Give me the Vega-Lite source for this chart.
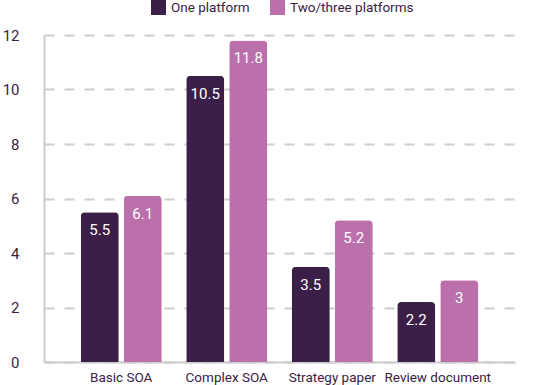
{
  "$schema": "https://vega.github.io/schema/vega-lite/v6.json",
  "autosize": {"type": "none"},
  "width": 471,
  "height": 327,
  "padding": {"left": 44, "top": 35, "right": 23, "bottom": 23},
  "background": "white",
  "data": {
    "values": [
      {"task": "Basic SOA", "group": "One platform", "value": 5.5},
      {"task": "Basic SOA", "group": "Two/three platforms", "value": 6.1},
      {"task": "Complex SOA", "group": "One platform", "value": 10.5},
      {"task": "Complex SOA", "group": "Two/three platforms", "value": 11.8},
      {"task": "Strategy paper", "group": "One platform", "value": 3.5},
      {"task": "Strategy paper", "group": "Two/three platforms", "value": 5.2},
      {"task": "Review document", "group": "One platform", "value": 2.2},
      {"task": "Review document", "group": "Two/three platforms", "value": 3}
    ]
  },
  "encoding": {
    "x": {
      "field": "task", "type": "nominal", "sort": null,
      "scale": {"paddingInner": 0.232, "paddingOuter": 0.348},
      "axis": {
        "title": null, "labelAngle": 0, "ticks": false, "domainColor": "#cccccc", "domainWidth": 2,
        "labelColor": "#3b2244", "labelFont": "Roboto", "labelFontSize": 13.5, "labelPadding": 8
      }
    },
    "xOffset": {"field": "group", "type": "nominal", "scale": {"paddingInner": 0.116, "paddingOuter": 0}},
    "y": {
      "field": "value", "type": "quantitative",
      "scale": {"domain": [0, 12]},
      "axis": {
        "title": null, "values": [0, 2, 4, 6, 8, 10, 12], "ticks": false,
        "domainColor": "#cccccc", "domainWidth": 2,
        "gridColor": "#cccccc", "gridWidth": 2, "gridDash": [10, 10],
        "labelColor": "#3b2244", "labelFont": "Roboto", "labelFontSize": 15, "labelPadding": 25
      }
    }
  },
  "layer": [
    {
      "mark": {"type": "bar", "cornerRadiusTopLeft": 4, "cornerRadiusTopRight": 4},
      "encoding": {
        "color": {
          "field": "group", "type": "nominal",
          "scale": {"domain": ["One platform", "Two/three platforms"], "range": ["#3c1f48", "#bb70ac"]},
          "legend": {
            "title": null, "orient": "none", "direction": "horizontal",
            "legendX": 107, "legendY": -35,
            "symbolType": "square", "symbolSize": 225, "symbolStrokeWidth": 0, "symbolOpacity": 1,
            "labelFont": "Roboto", "labelFontSize": 13.5, "labelColor": "#3b2244",
            "labelOffset": 5, "columnPadding": 20
          }
        }
      }
    },
    {
      "mark": {"type": "text", "color": "white", "font": "Roboto", "fontSize": 15, "baseline": "middle", "dy": 18},
      "encoding": {"text": {"field": "value", "type": "quantitative"}}
    }
  ],
  "config": {"view": {"stroke": null}}
}
